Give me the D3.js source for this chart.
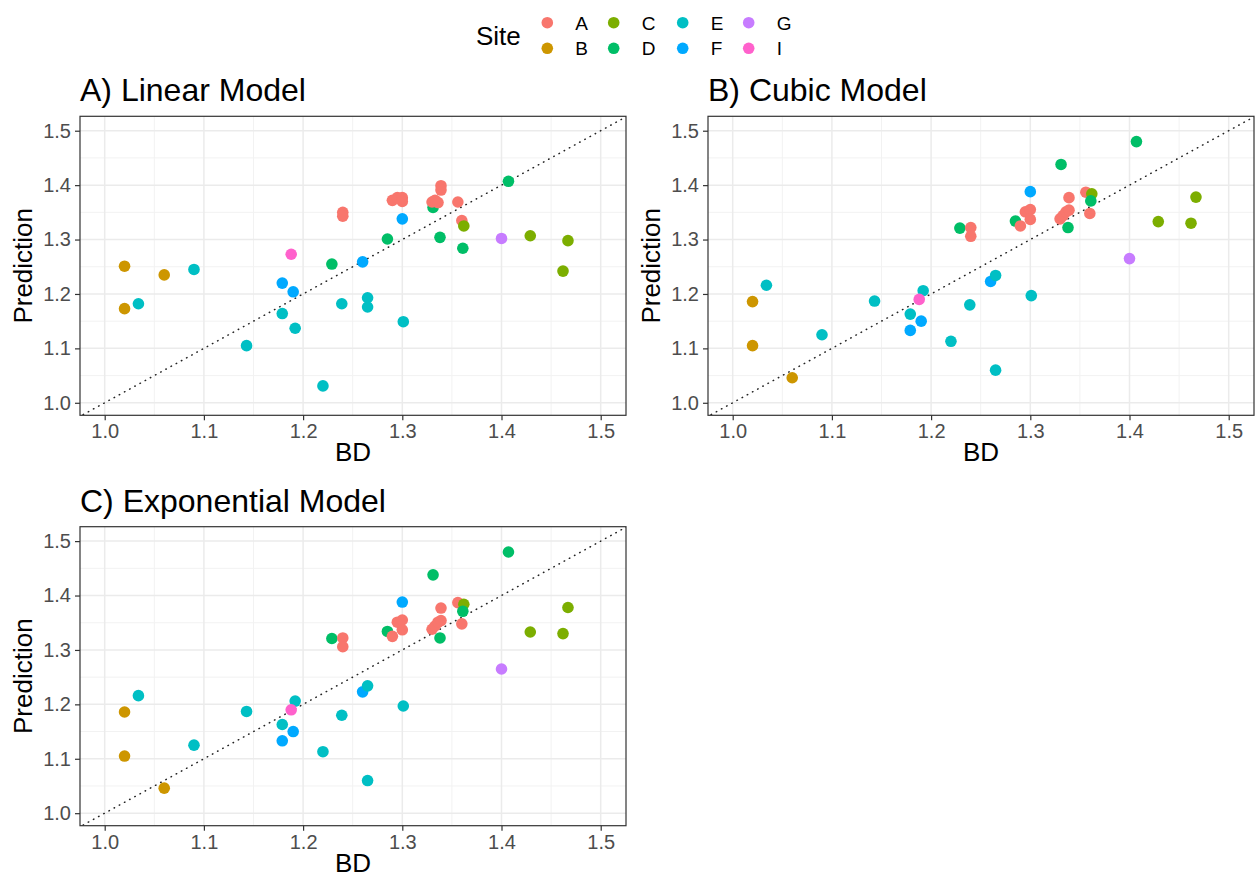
<!DOCTYPE html>
<html>
<head>
<meta charset="utf-8">
<script src="https://cdn.jsdelivr.net/npm/d3@7"></script>
<style>
  body { margin: 0; background: #fff; }
  svg { font-family: "Liberation Sans", Arial, sans-serif; }
</style>
</head>
<body>
<svg id="chart" width="1256" height="878"></svg>
<script>
// Data, one entry per sample
var sites = ['B','B','B','E','E','E','E','E','I','F','F','E','E','D','A','A','F','E','E','E','F','D',
  'A','A','A','A','D','A','A','A','A','A','D','A','A','C','D','D','G','C','C','C']
var bd = [1.02,1.02,1.06,1.034,1.09,1.143,1.179,1.192,1.188,1.179,1.19,1.22,1.239,1.229,1.24,1.24,1.26,1.265,1.265,1.301,1.30,1.285,
  1.29,1.295,1.30,1.30,1.331,1.33,1.333,1.336,1.339,1.339,1.338,1.356,1.36,1.362,1.361,1.407,1.40,1.429,1.467,1.462]
var predLinear = [1.251,1.173,1.235,1.182,1.245,1.105,1.164,1.137,1.273,1.220,1.204,1.031,1.182,1.255,1.350,1.343,1.259,1.193,1.176,1.149,1.338,1.301,
  1.372,1.377,1.377,1.370,1.359,1.369,1.372,1.368,1.399,1.391,1.304,1.369,1.335,1.325,1.284,1.407,1.302,1.307,1.298,1.242]
var predCubic = [1.186,1.105,1.046,1.216,1.125,1.187,1.163,1.206,1.190,1.133,1.150,1.113,1.180,1.321,1.322,1.306,1.223,1.234,1.060,1.197,1.388,1.334,
  1.325,1.351,1.355,1.337,1.438,1.338,1.344,1.351,1.354,1.377,1.322,1.387,1.348,1.384,1.371,1.480,1.265,1.333,1.378,1.330]
var predExp = [1.186,1.105,1.046,1.216,1.125,1.187,1.163,1.206,1.190,1.133,1.150,1.113,1.180,1.321,1.322,1.306,1.223,1.234,1.060,1.197,1.388,1.334,
  1.325,1.351,1.355,1.337,1.438,1.338,1.344,1.351,1.354,1.377,1.322,1.387,1.348,1.384,1.371,1.480,1.265,1.333,1.378,1.330]

var siteLevels = ['A','B','C','D','E','F','G','I']
var siteColors = ['#F8766D','#CD9600','#7CAE00','#00BE67','#00BFC4','#00A9FF','#C77CFF','#FF61CC']
var tickValues = [1.0, 1.1, 1.2, 1.3, 1.4, 1.5]
var minorValues = [1.05, 1.15, 1.25, 1.35, 1.45]

var svg = d3.select('#chart')
var panelW = 546, panelH = 299

var color = d3.scaleOrdinal().domain(siteLevels).range(siteColors)

var points = bd.map(function(v, i) {
  return { bd: v, site: sites[i], lin: predLinear[i], cub: predCubic[i], exp: predExp[i] }
})

function drawPanel(left, top, title, key) {
  var g = svg.append('g').attr('transform', 'translate(' + left + ',' + top + ')')
  var x = d3.scaleLinear().domain([0.9751, 1.5255]).range([0, panelW])
  var y = d3.scaleLinear().domain([0.977, 1.5265]).range([panelH, 0])

  // grid
  g.selectAll('.vminor').data(minorValues).enter().append('line')
    .attr('x1', d => x(d)).attr('x2', d => x(d)).attr('y1', 0).attr('y2', panelH)
    .attr('stroke', '#f2f2f2').attr('stroke-width', 1)
  g.selectAll('.hminor').data(minorValues).enter().append('line')
    .attr('y1', d => y(d)).attr('y2', d => y(d)).attr('x1', 0).attr('x2', panelW)
    .attr('stroke', '#f2f2f2').attr('stroke-width', 1)
  g.selectAll('.vmajor').data(tickValues).enter().append('line')
    .attr('x1', d => x(d)).attr('x2', d => x(d)).attr('y1', 0).attr('y2', panelH)
    .attr('stroke', '#ebebeb').attr('stroke-width', 1.5)
  g.selectAll('.hmajor').data(tickValues).enter().append('line')
    .attr('y1', d => y(d)).attr('y2', d => y(d)).attr('x1', 0).attr('x2', panelW)
    .attr('stroke', '#ebebeb').attr('stroke-width', 1.5)

  // 1:1 line, clipped to panel
  var clipId = 'clip-' + key
  g.append('clipPath').attr('id', clipId).append('rect')
    .attr('width', panelW).attr('height', panelH)
  g.append('line')
    .attr('clip-path', 'url(#' + clipId + ')')
    .attr('x1', x(0.9)).attr('y1', y(0.9)).attr('x2', x(1.6)).attr('y2', y(1.6))
    .attr('stroke', '#222').attr('stroke-width', 1.5)
    .attr('stroke-dasharray', '0.5,5.4').attr('stroke-linecap', 'round')

  g.selectAll('circle.pt').data(points).enter().append('circle')
    .attr('class', 'pt')
    .attr('cx', d => x(d.bd)).attr('cy', d => y(d[key]))
    .attr('r', 5.8)
    .attr('fill', d => color(d.site))

  g.append('rect').attr('width', panelW).attr('height', panelH)
    .attr('fill', 'none').attr('stroke', '#333').attr('stroke-width', 1.2)

  // axes
  var xa = g.append('g').attr('transform', 'translate(0,' + panelH + ')')
    .call(d3.axisBottom(x).tickValues(tickValues).tickFormat(d3.format('.1f')).tickSize(5).tickPadding(4))
  var ya = g.append('g')
    .call(d3.axisLeft(y).tickValues(tickValues).tickFormat(d3.format('.1f')).tickSize(5).tickPadding(4))
  ;[xa, ya].forEach(function(a) {
    a.select('.domain').remove()
    a.selectAll('line').attr('stroke', '#333').attr('stroke-width', 1.2)
    a.selectAll('text').attr('fill', '#4d4d4d').style('font-size', '20px')
      .style('font-family', '"Liberation Sans", Arial, sans-serif')
  })

  g.append('text').attr('x', panelW / 2).attr('y', panelH + 46)
    .attr('text-anchor', 'middle').style('font-size', '26px').text('BD')
  g.append('text').attr('transform', 'translate(' + (-48) + ',' + (panelH / 2) + ') rotate(-90)')
    .attr('text-anchor', 'middle').style('font-size', '26px').text('Prediction')
  g.append('text').attr('x', 0).attr('y', -15)
    .style('font-size', '32px').text(title)
}

drawPanel(80, 116.3, 'A) Linear Model', 'lin')
drawPanel(708, 116.3, 'B) Cubic Model', 'cub')
drawPanel(80, 526.7, 'C) Exponential Model', 'exp')

// Legend
var legend = svg.append('g')
legend.append('text').attr('x', 476).attr('y', 45).style('font-size', '26px').text('Site')
var legX = [547.3, 547.3, 613.7, 613.7, 682.7, 682.7, 748.7, 748.7]
var legY = [22.7, 48.3]
siteLevels.forEach(function(s, i) {
  var cx = legX[i], cy = legY[i % 2]
  legend.append('circle').attr('cx', cx).attr('cy', cy).attr('r', 5.8).attr('fill', color(s))
  legend.append('text').attr('x', cx + 28).attr('y', cy + 7)
    .style('font-size', '19px').text(s)
})
</script>
</body>
</html>
